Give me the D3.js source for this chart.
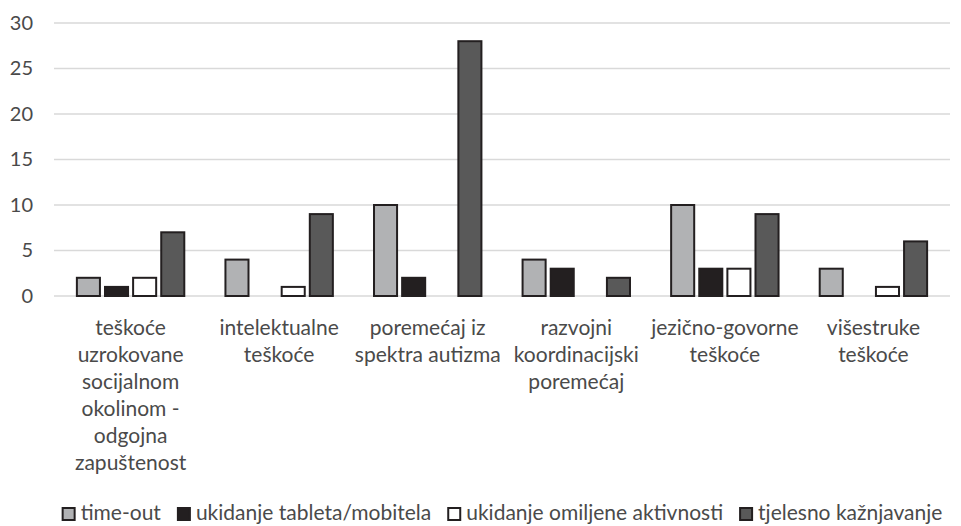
<!DOCTYPE html>
<html>
<head>
<meta charset="utf-8">
<script src="https://cdn.jsdelivr.net/npm/d3@7"></script>
<style>
  body { margin: 0; background: #fff; }
  svg text { font-family: Lato, "Open Sans", sans-serif; fill: #4a4a4a; }
</style>
</head>
<body>
<svg width="961" height="526"></svg>
<script>
// chart data
var categories = [
    ["teškoće", "uzrokovane", "socijalnom", "okolinom -", "odgojna", "zapuštenost"],
    ["intelektualne", "teškoće"],
    ["poremećaj iz", "spektra autizma"],
    ["razvojni", "koordinacijski", "poremećaj"],
    ["jezično-govorne", "teškoće"],
    ["višestruke", "teškoće"]
];
var seriesNames = ["time-out", "ukidanje tableta/mobitela", "ukidanje omiljene aktivnosti", "tjelesno kažnjavanje"];
var timeOut   = [2, 4, 10, 4, 10, 3];
var tableta   = [1, 0, 2, 3, 3, 0];
var omiljene  = [2, 1, 0, 0, 3, 1];
var tjelesno  = [7, 9, 28, 2, 9, 6];
var yTicks = [0, 5, 10, 15, 20, 25, 30];

var colors = ["#b1b2b4", "#231f20", "#ffffff", "#595959"];
var seriesValues = [timeOut, tableta, omiljene, tjelesno];

var margin = {top: 23, left: 54, right: 11, bottom: 230};
var svg = d3.select("svg");
var width = +svg.attr("width") - margin.left - margin.right;
var height = +svg.attr("height") - margin.top - margin.bottom;

var g = svg.append("g")
    .attr("transform", "translate(" + margin.left + "," + margin.top + ")");

var x0 = d3.scaleBand().domain(d3.range(categories.length)).range([0, width])
    .paddingInner(0.277).paddingOuter(0.154);
var x1 = d3.scaleBand().domain(d3.range(seriesNames.length)).range([0, x0.bandwidth()])
    .paddingInner(0.18).paddingOuter(0);
var y = d3.scaleLinear().domain([0, 30]).range([height, 0]);

// gridlines
g.selectAll(".grid")
    .data(yTicks)
    .enter().append("line")
    .attr("x1", 0).attr("x2", width)
    .attr("y1", function(d) { return y(d); })
    .attr("y2", function(d) { return y(d); })
    .attr("stroke", "#d9d9d9")
    .attr("stroke-width", 1.5);

// y axis labels
var yAxis = g.append("g")
    .call(d3.axisLeft(y).tickValues(yTicks).tickSize(0).tickPadding(21));
yAxis.select(".domain").remove();
yAxis.selectAll("text").style("font-size", "20px").style("font-family", "Lato").attr("fill", "#4a4a4a");

// bars
var groups = g.selectAll(".grp")
    .data(categories)
    .enter().append("g")
    .attr("transform", function(d, i) { return "translate(" + x0(i) + ",0)"; });

groups.selectAll("rect")
    .data(function(d, i) {
        return seriesValues.map(function(s, k) { return {k: k, v: s[i]}; })
            .filter(function(e) { return e.v > 0; });
    })
    .enter().append("rect")
    .attr("x", function(d) { return x1(d.k); })
    .attr("width", x1.bandwidth())
    .attr("y", function(d) { return y(d.v); })
    .attr("height", function(d) { return y(0) - y(d.v); })
    .attr("fill", function(d) { return colors[d.k]; })
    .attr("stroke", "#231f20")
    .attr("stroke-width", 2);

// category labels
groups.append("text")
    .attr("text-anchor", "middle")
    .attr("x", x0.bandwidth() / 2)
    .attr("y", height + 39)
    .style("font-size", "21px")
    .selectAll("tspan")
    .data(function(d) { return d; })
    .enter().append("tspan")
    .attr("x", x0.bandwidth() / 2)
    .attr("dy", function(d, i) { return i === 0 ? 0 : 27; })
    .text(function(d) { return d; });

// legend, centred under the plot
var legend = svg.append("g");
var lx = 0;
seriesNames.forEach(function(name, k) {
    var item = legend.append("g").attr("transform", "translate(" + lx + ",0)");
    item.append("rect")
        .attr("x", 1).attr("y", -12)
        .attr("width", 12).attr("height", 12)
        .attr("fill", colors[k])
        .attr("stroke", "#231f20")
        .attr("stroke-width", 2);
    var t = item.append("text")
        .attr("x", 19).attr("y", 0)
        .style("font-size", "21px")
        .text(name);
    lx += 19 + t.node().getComputedTextLength() + (k < seriesNames.length - 1 ? 16 : 0);
});
legend.attr("transform", "translate(" + (margin.left + width / 2 - lx / 2) + ",520)");
</script>
</body>
</html>
